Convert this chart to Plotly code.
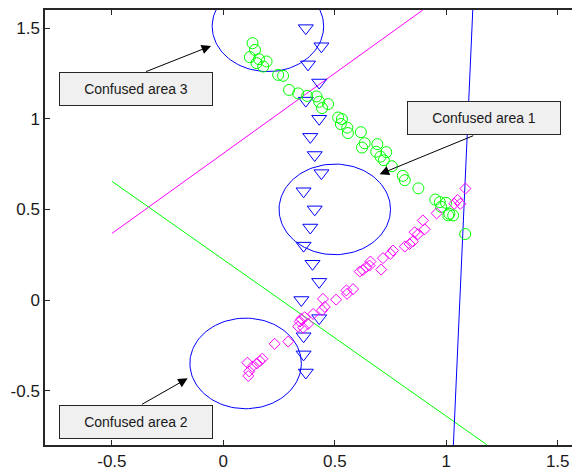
import numpy as np
import plotly.graph_objects as go

# ---- data ----
tri_x = [0.37, 0.44, 0.38, 0.43, 0.37, 0.43, 0.39, 0.41, 0.44, 0.36,
         0.41, 0.39, 0.36, 0.40, 0.43, 0.35, 0.43, 0.36, 0.36, 0.37]
tri_y = [1.5, 1.4, 1.3, 1.2, 1.1, 1.0, 0.9, 0.8, 0.7, 0.6,
         0.5, 0.4, 0.3, 0.2, 0.1, 0.0, -0.1, -0.2, -0.3, -0.4]

green_x = [0.131, 0.142, 0.119, 0.160, 0.149, 0.194, 0.179, 0.246, 0.268, 0.295,
           0.336, 0.376, 0.418, 0.430, 0.443, 0.470, 0.515, 0.532, 0.527, 0.556,
           0.559, 0.617, 0.634, 0.622, 0.691, 0.686, 0.731, 0.705, 0.720, 0.756,
           0.805, 0.814, 0.875, 0.951, 0.971, 0.999, 0.977, 1.014, 1.031, 1.009,
           1.085]
green_y = [1.417, 1.380, 1.340, 1.329, 1.307, 1.316, 1.288, 1.242, 1.237, 1.159,
           1.140, 1.126, 1.123, 1.094, 1.059, 1.081, 1.007, 0.998, 0.971, 0.951,
           0.921, 0.926, 0.865, 0.841, 0.860, 0.818, 0.816, 0.791, 0.771, 0.738,
           0.685, 0.661, 0.616, 0.554, 0.540, 0.536, 0.514, 0.476, 0.467, 0.467,
           0.364]

mag_x = [1.086, 1.051, 1.063, 1.036, 0.957, 0.895, 0.903, 0.873, 0.858, 0.850,
         0.835, 0.814, 0.761, 0.750, 0.716, 0.660, 0.641, 0.626, 0.656, 0.708,
         0.612, 0.582, 0.552, 0.555, 0.506, 0.447, 0.455, 0.443, 0.403, 0.365,
         0.349, 0.343, 0.380, 0.336, 0.358, 0.291, 0.230, 0.175, 0.164, 0.150,
         0.108, 0.130, 0.116, 0.112]
mag_y = [0.615, 0.552, 0.531, 0.531, 0.478, 0.439, 0.390, 0.363, 0.374, 0.323,
         0.309, 0.295, 0.273, 0.255, 0.231, 0.212, 0.182, 0.165, 0.190, 0.168,
         0.157, 0.060, 0.053, 0.034, 0.002, 0.006, -0.038, -0.056, -0.077, -0.095,
         -0.105, -0.119, -0.132, -0.147, -0.153, -0.229, -0.242, -0.324, -0.337, -0.350,
         -0.346, -0.368, -0.394, -0.419]

# separating lines (endpoints)
line_m_x = [-0.5, 0.895]
line_m_y = [0.367, 1.6]
line_g_x = [-0.5, 1.184]
line_g_y = [0.655, -0.8]
line_b_x = [1.119, 1.032]
line_b_y = [1.6, -0.8]

# confused areas (circles)
circ_cx = [0.2, 0.5, 0.1]
circ_cy = [1.51, 0.5, -0.35]
circ_r = [0.25, 0.25, 0.25]

labels = ["Confused area 3", "Confused area 1", "Confused area 2"]
label_x = [-0.392, 1.168, -0.392]
label_y = [1.166, 1.004, -0.674]
tip_x = [-0.055, 0.701, -0.160]
tip_y = [1.402, 0.694, -0.432]
tail_x = [-0.353, 1.128, -0.371]
tail_y = [1.257, 0.910, -0.580]

tick_vals = [-0.5, 0, 0.5, 1, 1.5]
tick_text = ["-0.5", "0", "0.5", "1", "1.5"]

FONT = "Liberation Sans, Arial, sans-serif"
AX = "#262626"

fig = go.Figure()

fig.add_trace(go.Scatter(x=line_m_x, y=line_m_y, mode="lines",
                         line=dict(color="#ff00ff", width=1), showlegend=False))
fig.add_trace(go.Scatter(x=line_g_x, y=line_g_y, mode="lines",
                         line=dict(color="#00ff00", width=1), showlegend=False))
fig.add_trace(go.Scatter(x=line_b_x, y=line_b_y, mode="lines",
                         line=dict(color="#0000ff", width=1), showlegend=False))

t = np.linspace(0, 2 * np.pi, 121)
for cx, cy, r in zip(circ_cx, circ_cy, circ_r):
    fig.add_trace(go.Scatter(x=cx + r * np.cos(t), y=cy + r * np.sin(t), mode="lines",
                             line=dict(color="#0000ff", width=1), showlegend=False))

fig.add_trace(go.Scatter(x=tri_x, y=tri_y, mode="markers",
                         marker=dict(symbol="triangle-down-open", size=13,
                                     color="#0000ff", line=dict(width=1)),
                         showlegend=False))
fig.add_trace(go.Scatter(x=green_x, y=green_y, mode="markers",
                         marker=dict(symbol="circle-open", size=11,
                                     color="#00ff00", line=dict(width=1)),
                         showlegend=False))
fig.add_trace(go.Scatter(x=mag_x, y=mag_y, mode="markers",
                         marker=dict(symbol="diamond-open", size=8.5,
                                     color="#ff00ff", line=dict(width=1)),
                         showlegend=False))

annotations = []
for txt, lx, ly in zip(labels, label_x, label_y):
    annotations.append(dict(x=lx, y=ly, xref="x", yref="y", text=txt, showarrow=False,
                            width=152, height=32, borderpad=0, bgcolor="#f0f0f0",
                            bordercolor=AX, borderwidth=1,
                            font=dict(family=FONT, size=14, color="#1a1a1a")))
for tx, ty, ax, ay in zip(tip_x, tip_y, tail_x, tail_y):
    annotations.append(dict(x=tx, y=ty, xref="x", yref="y", ax=ax, ay=ay,
                            axref="x", ayref="y", text="", showarrow=True,
                            arrowhead=2, arrowsize=1.9, arrowwidth=1,
                            arrowcolor="black", standoff=0, startstandoff=0))

# the page body adds an 8 px margin, so the figure is 8 px smaller and margins shifted
fig.update_layout(
    width=572, height=463,
    margin=dict(l=37, r=0, t=2, b=19),
    paper_bgcolor="white", plot_bgcolor="white",
    annotations=annotations,
    font=dict(family=FONT, color=AX),
)
fig.update_xaxes(range=[-0.8, 1.6], tickvals=tick_vals, ticktext=tick_text,
                 ticks="inside", ticklen=5, tickcolor=AX, showline=True,
                 linecolor=AX, linewidth=1.5, mirror="ticks", showgrid=False,
                 zeroline=False, tickfont=dict(family=FONT, size=17, color="#1a1a1a"))
fig.update_yaxes(range=[-0.8, 1.6], tickvals=tick_vals, ticktext=tick_text,
                 ticks="inside", ticklen=5, tickcolor=AX, showline=True,
                 linecolor=AX, linewidth=1.5, mirror=False, showgrid=False,
                 zeroline=False, tickfont=dict(family=FONT, size=17, color="#1a1a1a"))

fig.write_html("out.html")
